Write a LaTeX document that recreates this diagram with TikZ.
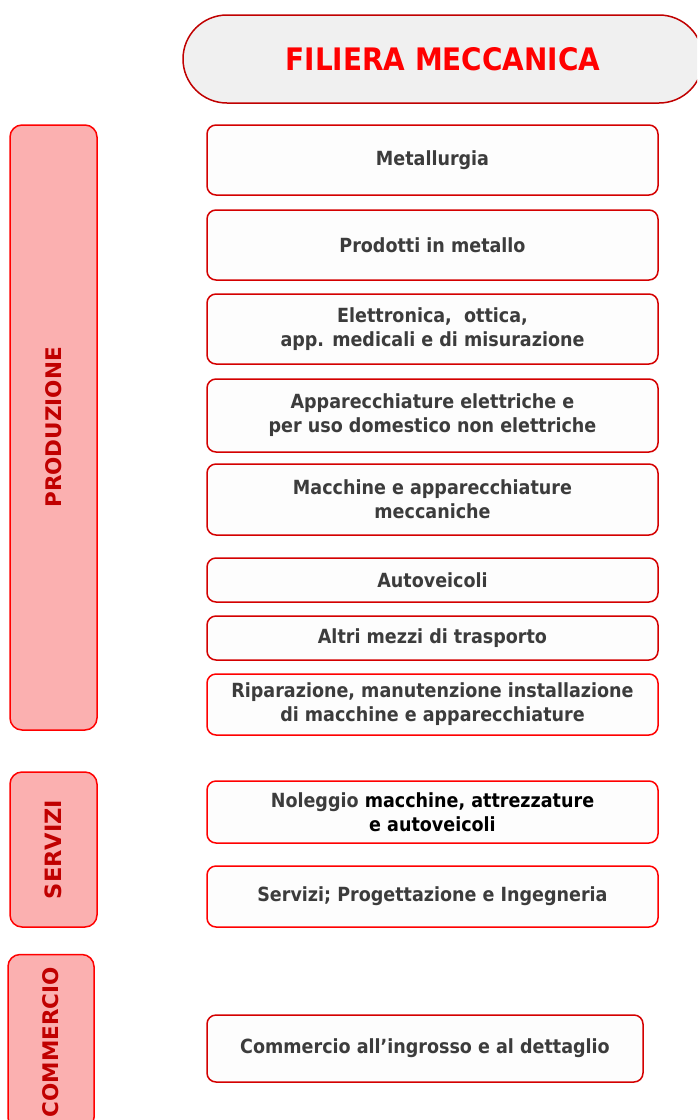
\documentclass[tikz,border=0pt]{standalone}
\usepackage{fontspec}
\setmainfont{DejaVu Sans}
\newfontfamily\stretto{DejaVu Sans Condensed}
\usetikzlibrary{positioning}
\definecolor{rossovivo}{HTML}{FF0000}
\definecolor{rossobordo}{HTML}{D40000}
\definecolor{rossoscuro}{HTML}{C00000}
\definecolor{rosa}{HTML}{FBB0B0}
\definecolor{grigiotitolo}{HTML}{F0F0F0}
\definecolor{biancosettore}{HTML}{FDFDFD}
\definecolor{grigiotesto}{HTML}{3C3C3C}

\begin{document}
\begin{tikzpicture}[x=1pt,y=-1pt,
    settore/.style={draw=rossobordo, line width=1.5pt, fill=biancosettore,
      rounded corners=9pt, minimum width=451pt, align=center,
      text=grigiotesto, font=\stretto\bfseries\fontsize{19.5}{24}\selectfont},
    gruppo/.style={draw=rossovivo, line width=1.5pt, fill=rosa,
      rounded corners=12pt, minimum height=87pt, rotate=90,
      text=rossoscuro, font=\bfseries\fontsize{21.5}{24}\selectfont}]
    \useasboundingbox (0,0) rectangle (697,1120);
    \clip (0,0) rectangle (697,1120);
    % Title
    \node[draw=rossoscuro, line width=1.5pt, fill=grigiotitolo, rounded corners=44pt,
      minimum width=520pt, minimum height=88pt, text=rossovivo,
      font=\stretto\bfseries\fontsize{31}{36}\selectfont] (titolo) at (443,59) {FILIERA MECCANICA};
    % Groups on the left
    \node[gruppo, minimum width=605pt] (produzione) at (53.5,427.5) {PRODUZIONE};
    \node[gruppo, minimum width=155pt, font=\bfseries\fontsize{22.5}{24}\selectfont] (servizi) at (53.5,849.5) {SERVIZI};
    \node[gruppo, minimum width=175pt, minimum height=86pt] (commercio) at (51,1042) {COMMERCIO};
    % Produzione
    \node[settore, minimum height=70pt] (metallurgia) at (432.5,160) {Metallurgia};
    \node[settore, minimum height=70pt] (prodotti) at (432.5,245) {Prodotti in metallo};
    \node[settore, minimum height=70pt] (elettronica) at (432.5,329)
      {Elettronica,\ \ ottica,\\app. medicali e di misurazione};
    \node[settore, minimum height=73pt] (apparecchiature) at (432.5,415.5)
      {Apparecchiature elettriche e\\per uso domestico non elettriche};
    \node[settore, minimum height=71pt] (macchine) at (432.5,499.5)
      {Macchine e apparecchiature\\meccaniche};
    \node[settore, minimum height=44pt] (autoveicoli) at (432.5,580) {Autoveicoli};
    \node[settore, minimum height=44pt] (altrimezzi) at (432.5,638) {Altri mezzi di trasporto};
    \node[settore, minimum height=61pt, draw=rossovivo] (riparazione) at (432.5,704.5)
      {Riparazione, manutenzione installazione\\di macchine e apparecchiature};
    % Servizi
    \node[settore, minimum height=62pt, draw=rossovivo] (noleggio) at (432.5,812)
      {Noleggio \textcolor{black}{macchine, attrezzature}\\\textcolor{black}{e autoveicoli}};
    \node[settore, minimum height=61pt, draw=rossovivo] (progettazione) at (432.5,896.5)
      {Servizi; Progettazione e Ingegneria};
    % Commercio
    \node[settore, minimum width=436pt, minimum height=67pt, draw=rossobordo] (ingrosso) at (425,1048.5)
      {Commercio all’ingrosso e al dettaglio};
\end{tikzpicture}
\end{document}
